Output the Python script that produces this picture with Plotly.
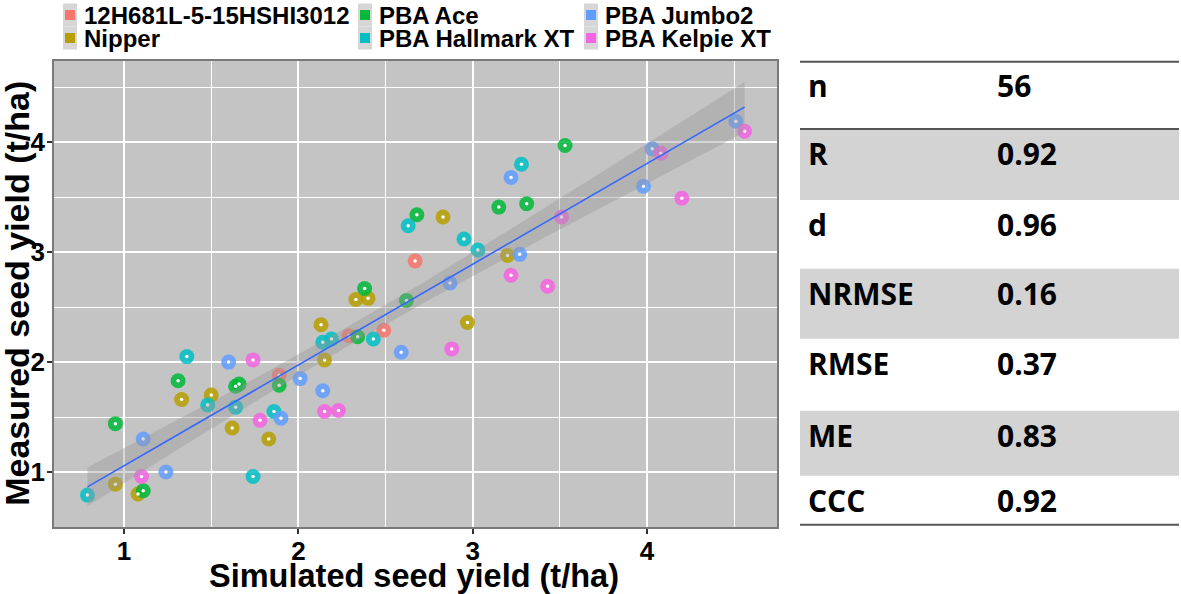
import numpy as np
import plotly.graph_objects as go

# --- data ---
varieties = ["12H681L-5-15HSHI3012", "Nipper", "PBA Ace",
             "PBA Hallmark XT", "PBA Jumbo2", "PBA Kelpie XT"]
colors = ["#F8766D", "#B79F00", "#00BA38", "#00BFC4", "#619CFF", "#F564E3"]

sim_12h = [1.89, 2.29, 2.49, 2.67]
obs_12h = [1.88, 2.24, 2.29, 2.92]

sim_nipper = [0.95, 1.08, 1.33, 1.50, 1.62, 1.83, 2.13, 2.15, 2.33, 2.40, 2.83, 2.97, 3.20]
obs_nipper = [0.89, 0.80, 1.66, 1.70, 1.40, 1.30, 2.34, 2.02, 2.57, 2.58, 3.32, 2.36, 2.97]

sim_ace = [0.95, 1.11, 1.31, 1.64, 1.66, 1.89, 2.34, 2.38, 2.62, 2.68, 3.15, 3.31, 3.53]
obs_ace = [1.44, 0.83, 1.83, 1.78, 1.80, 1.79, 2.23, 2.67, 2.56, 3.34, 3.41, 3.44, 3.97]

sim_hallmark = [0.79, 1.36, 1.48, 1.64, 1.74, 1.86, 2.14, 2.19, 2.43, 2.63, 2.95, 3.03, 3.28]
obs_hallmark = [0.79, 2.05, 1.61, 1.59, 0.96, 1.55, 2.18, 2.21, 2.21, 3.24, 3.12, 3.02, 3.80]

sim_jumbo = [1.11, 1.24, 1.60, 1.90, 2.01, 2.14, 2.59, 2.87, 3.22, 3.27, 3.98, 4.03, 4.51]
obs_jumbo = [1.30, 1.00, 2.00, 1.49, 1.85, 1.74, 2.09, 2.72, 3.68, 2.98, 3.60, 3.94, 4.19]

sim_kelpie = [1.10, 1.74, 1.78, 2.15, 2.23, 2.88, 3.22, 3.43, 3.51, 4.08, 4.20, 4.56]
obs_kelpie = [0.96, 2.02, 1.47, 1.55, 1.56, 2.12, 2.79, 2.69, 3.32, 3.90, 3.49, 4.10]

x_ticks = [1, 2, 3, 4]
y_ticks = [1, 2, 3, 4]

stat_names = ["n", "R", "d", "NRMSE", "RMSE", "ME", "CCC"]
stat_values = ["56", "0.92", "0.96", "0.16", "0.37", "0.83", "0.92"]

sims = [sim_12h, sim_nipper, sim_ace, sim_hallmark, sim_jumbo, sim_kelpie]
obss = [obs_12h, obs_nipper, obs_ace, obs_hallmark, obs_jumbo, obs_kelpie]

# --- page geometry (pixels) ---
W, H = 1181, 594
PL, PR, PT, PB = 54, 777, 61, 527.3


def px(x):
    return (x - PL) / (PR - PL)


def py(y):
    return (PB - y) / (PB - PT)


fig = go.Figure()

# coloured points
for name, col, xs, ys in zip(varieties, colors, sims, obss):
    fig.add_trace(go.Scatter(x=xs, y=ys, mode="markers", name=name,
                             marker=dict(size=15, color=col, opacity=0.85),
                             showlegend=False))

# white centre dots on top
all_x = np.concatenate([np.array(s) for s in sims])
all_y = np.concatenate([np.array(o) for o in obss])
fig.add_trace(go.Scatter(x=all_x, y=all_y, mode="markers",
                         marker=dict(size=3.5, color="white"),
                         showlegend=False, hoverinfo="skip"))

# linear fit with 95% confidence band (like geom_smooth(method="lm"))
b, a = np.polyfit(all_x, all_y, 1)
n = len(all_x)
resid = all_y - (a + b * all_x)
s = np.sqrt(np.sum(resid ** 2) / (n - 2))
xbar = all_x.mean()
sxx = np.sum((all_x - xbar) ** 2)
t_crit = 1.997  # t(0.975, df ~ 66)
xg = np.linspace(all_x.min(), all_x.max(), 80)
fit = a + b * xg
se = s * np.sqrt(1 / n + (xg - xbar) ** 2 / sxx)
upper = fit + t_crit * se
lower = fit - t_crit * se

fig.add_trace(go.Scatter(x=np.concatenate([xg, xg[::-1]]),
                         y=np.concatenate([upper, lower[::-1]]),
                         fill="toself", fillcolor="rgba(153,153,153,0.4)",
                         line=dict(width=0), mode="lines",
                         showlegend=False, hoverinfo="skip"))
fig.add_trace(go.Scatter(x=xg, y=fit, mode="lines",
                         line=dict(color="#3366FF", width=1.6),
                         showlegend=False))

tick_font = dict(family="Liberation Sans", size=26, color="black", weight="bold")
axis_common = dict(
    showgrid=True, gridcolor="white", gridwidth=1.6,
    ticks="outside", ticklen=5, tickwidth=2, tickcolor="#333333",
    tickfont=tick_font, zeroline=False,
    showline=True, mirror=True, linecolor="#7a7a7a", linewidth=1.5,
)

fig.update_layout(
    width=W, height=H,
    margin=dict(l=PL, r=W - PR, t=PT, b=H - PB),
    paper_bgcolor="white",
    plot_bgcolor="#c4c4c4",
    showlegend=False,
    xaxis=dict(range=[0.598, 4.746], tickvals=x_ticks,
               ticktext=[str(v) for v in x_ticks], ticklabelstandoff=-5,
               minor=dict(tickvals=[1.5, 2.5, 3.5, 4.5], showgrid=True,
                          gridcolor="white", gridwidth=1, ticks=""),
               **axis_common),
    yaxis=dict(range=[0.5, 4.739], tickvals=y_ticks,
               ticktext=[str(v) for v in y_ticks], ticklabelstandoff=-3,
               minor=dict(tickvals=[1.5, 2.5, 3.5, 4.5], showgrid=True,
                          gridcolor="white", gridwidth=1, ticks=""),
               **axis_common),
)

annotations = []
shapes = []

# axis titles
title_font = dict(family="Liberation Sans", color="black", weight="bold")
annotations.append(dict(text="Simulated seed yield (t/ha)", xref="paper", yref="paper",
                        x=px(414), y=py(576), xanchor="center", yanchor="middle",
                        showarrow=False, font=dict(size=32.5, **title_font)))
annotations.append(dict(text="Measured seed yield (t/ha)", xref="paper", yref="paper",
                        x=px(17), y=py(294), xanchor="center", yanchor="middle",
                        textangle=-90, showarrow=False, font=dict(size=34, **title_font)))

# legend drawn by hand: 3 columns x 2 rows, column-major like ggplot
col_key_x = [63, 358, 584]
row_y = [15, 38]
for i, (name, col) in enumerate(zip(varieties, colors)):
    c, r = divmod(i, 2)
    kx = col_key_x[c]
    ky = row_y[r]
    shapes.append(dict(type="rect", xref="paper", yref="paper",
                       x0=px(kx), x1=px(kx + 14), y0=py(ky + 11.5), y1=py(ky - 11.5),
                       fillcolor="#d6d6d6", line=dict(width=0)))
    shapes.append(dict(type="rect", xref="paper", yref="paper",
                       x0=px(kx + 2), x1=px(kx + 12), y0=py(ky + 5), y1=py(ky - 5),
                       fillcolor=col, line=dict(width=0)))
    annotations.append(dict(text=name, xref="paper", yref="paper",
                            x=px(kx + 19), y=py(ky), xanchor="left", yanchor="middle",
                            showarrow=False,
                            font=dict(family="Liberation Sans", size=24,
                                      color="black", weight="bold")))

# statistics table on the right
row_edges = [61.7, 129, 200, 269, 339, 411, 476, 525]
row_baselines = [97, 165, 236, 305, 375, 447, 512]
tx0, tx1 = 800, 1179
for i in range(len(stat_names)):
    if i % 2 == 1:
        shapes.append(dict(type="rect", xref="paper", yref="paper", layer="below",
                           x0=px(tx0), x1=px(tx1),
                           y0=py(row_edges[i + 1]), y1=py(row_edges[i]),
                           fillcolor="#d3d3d3", line=dict(width=0)))
for yl in [row_edges[0], row_edges[1], row_edges[-1]]:
    shapes.append(dict(type="line", xref="paper", yref="paper",
                       x0=px(tx0), x1=px(tx1), y0=py(yl), y1=py(yl),
                       line=dict(color="#555555", width=2)))
table_font = dict(family="Open Sans", size=30, color="black", weight="bold")
for name, val, base in zip(stat_names, stat_values, row_baselines):
    yc = base - 11
    annotations.append(dict(text=name, xref="paper", yref="paper",
                            x=px(806), y=py(yc), xanchor="left", yanchor="middle",
                            showarrow=False, font=table_font))
    annotations.append(dict(text=val, xref="paper", yref="paper",
                            x=px(995), y=py(yc), xanchor="left", yanchor="middle",
                            showarrow=False, font=table_font))

fig.update_layout(annotations=annotations, shapes=shapes)

# the page's default 8px body margin would push the figure off the window
fig.write_html("out.html", config={"displayModeBar": False},
               post_script="document.body.style.margin='0px';")
